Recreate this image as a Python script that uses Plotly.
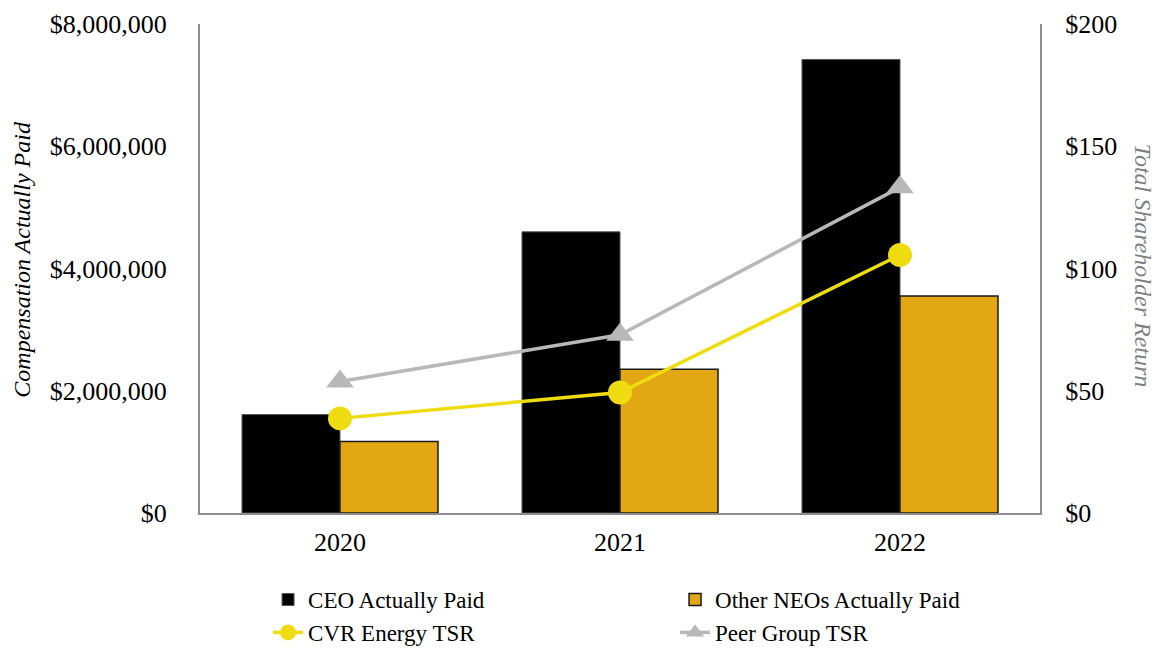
import plotly.graph_objects as go

years = ["2020", "2021", "2022"]
ceo_paid = [1610000, 4600000, 7420000]
neo_paid = [1170000, 2350000, 3550000]
cvr_tsr = [38.7, 49.3, 105.5]
peer_tsr = [53.8, 72.9, 133.2]

left_ticks = [0, 2000000, 4000000, 6000000, 8000000]
left_labels = ["$0", "$2,000,000", "$4,000,000", "$6,000,000", "$8,000,000"]
right_ticks = [0, 50, 100, 150, 200]
right_labels = ["$0", "$50", "$100", "$150", "$200"]

FONT = "Liberation Serif, Times New Roman, serif"
AXIS_GREY = "#8c8c8c"

fig = go.Figure()
fig.add_trace(go.Bar(
    x=years, y=ceo_paid, name="CEO Actually Paid",
    marker=dict(color="#000000", line=dict(color="#555555", width=1)),
    yaxis="y", hoverinfo="skip"))
fig.add_trace(go.Bar(
    x=years, y=neo_paid, name="Other NEOs Actually Paid",
    marker=dict(color="#E2A713", line=dict(color="#1a1a1a", width=1.5)),
    yaxis="y", hoverinfo="skip"))
fig.add_trace(go.Scatter(
    x=years, y=cvr_tsr, name="CVR Energy TSR", mode="lines+markers",
    line=dict(color="#EEDC10", width=3.5),
    marker=dict(symbol="circle", size=24, color="#EEDC10"),
    yaxis="y2", hoverinfo="skip"))
fig.add_trace(go.Scatter(
    x=years, y=peer_tsr, name="Peer Group TSR", mode="lines+markers",
    line=dict(color="#B8B8B8", width=3.5),
    marker=dict(symbol="triangle-up", size=24, color="#B8B8B8"),
    yaxis="y2", hoverinfo="skip"))

fig.update_layout(
    width=1159, height=651,
    margin=dict(l=200, r=119, t=24, b=138, autoexpand=False),
    paper_bgcolor="white", plot_bgcolor="white",
    font=dict(family=FONT, size=24, color="#000000"),
    barmode="group", bargap=0.3, bargroupgap=0,
    xaxis=dict(
        type="category", showgrid=False, showline=True,
        linecolor=AXIS_GREY, linewidth=2, ticks="",
        tickfont=dict(family=FONT, size=26),
        ticklabelstandoff=5, mirror=False),
    yaxis=dict(
        range=[0, 8000000], tickvals=left_ticks, ticktext=left_labels,
        showgrid=False, showline=True, linecolor=AXIS_GREY, linewidth=2,
        ticks="", tickfont=dict(family=FONT, size=26),
        ticklabelstandoff=26, zeroline=False),
    yaxis2=dict(
        range=[0, 200], tickvals=right_ticks, ticktext=right_labels,
        overlaying="y", side="right",
        showgrid=False, showline=True, linecolor=AXIS_GREY, linewidth=2,
        ticks="", tickfont=dict(family=FONT, size=26),
        ticklabelstandoff=18, zeroline=False),
    legend=dict(
        orientation="h", x=0.081, xanchor="left", y=-0.133, yanchor="top",
        entrywidth=362, entrywidthmode="pixels",
        font=dict(family=FONT, size=23), traceorder="normal",
        itemwidth=30, tracegroupgap=0, bgcolor="rgba(0,0,0,0)"),
    annotations=[
        dict(text="<i>Compensation Actually Paid</i>", xref="paper", yref="paper",
             x=-0.212, y=0.52, xanchor="center", yanchor="middle", textangle=-90,
             showarrow=False, font=dict(family=FONT, size=24, color="#000000")),
        dict(text="<i>Total Shareholder Return</i>", xref="paper", yref="paper",
             x=1.123, y=0.505, xanchor="center", yanchor="middle", textangle=90,
             showarrow=False, font=dict(family=FONT, size=24, color="#7f7f7f")),
    ],
)

fig.write_html(
    "out.html",
    config={"displayModeBar": False},
    post_script="document.body.style.margin='0px';document.body.style.overflow='hidden';",
)
